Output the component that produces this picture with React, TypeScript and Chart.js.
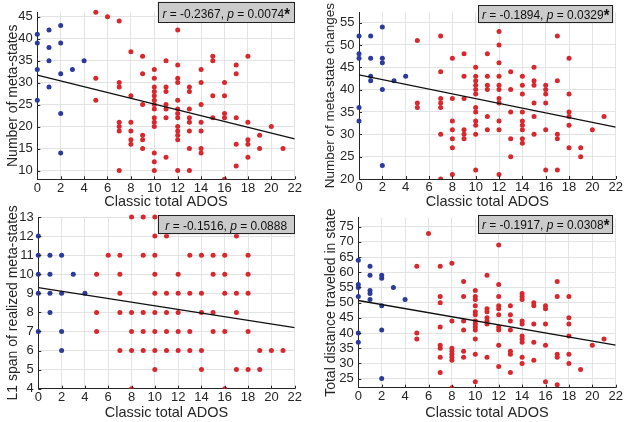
import React, { useEffect, useRef } from "react";
import { Chart, registerables } from "chart.js";

Chart.register(...registerables);

type Column = [number, number[]];

// ---------- shared axis ----------
const adosTicks = [0, 2, 4, 6, 8, 10, 12, 14, 16, 18, 20, 22];
const xAxisTitle = "Classic total ADOS";

// ---------- panel A: number of meta-states ----------
const statesTitle = "Number of meta-states";
const statesTicks = [10, 15, 20, 25, 30, 35, 40, 45];
const statesRange = [8, 46];
const statesBlue: Column[] = [
  [0, [41, 39, 33, 26]],
  [1, [42, 38, 35, 29]],
  [2, [43, 39, 32, 23, 14]],
  [3, [33]],
  [4, [35]],
];
const statesRed: Column[] = [
  [5, [46, 31, 26]],
  [6, [45]],
  [7, [44, 30, 29, 21, 20, 19, 10]],
  [8, [37, 27, 21, 19, 17, 16]],
  [9, [36, 32, 25, 18, 17, 15]],
  [10, [33, 31, 29, 28, 27, 26, 25, 24, 22, 21, 20, 14, 12, 10]],
  [11, [35, 29, 28, 25, 24, 22, 13]],
  [12, [42, 34, 31, 30, 26, 24, 23, 22, 20, 19, 18, 17, 10]],
  [13, [29, 28, 24, 22, 21, 19, 15, 10]],
  [14, [33, 30, 25, 21, 19, 15, 14]],
  [15, [36, 35, 27, 22]],
  [16, [30, 27, 23, 22, 8]],
  [17, [34, 32, 22, 16, 11]],
  [18, [36, 21, 17, 16, 13]],
  [19, [18, 15]],
  [20, [20]],
  [21, [15]],
];
const statesFit = [31.7, 17.2];
const statesStats = ["-0.2367", "0.0074", "*"];

// ---------- panel B: number of meta-state changes ----------
const changesTitle = "Number of meta-state changes";
const changesTicks = [20, 25, 30, 35, 40, 45, 50, 55];
const changesRange = [20, 57.3];
const changesBlue: Column[] = [
  [0, [52, 48, 47, 36, 33]],
  [1, [52, 47, 43, 42]],
  [2, [54, 47, 46, 40, 23]],
  [3, [42]],
  [4, [43]],
];
const changesRed: Column[] = [
  [5, [51, 37, 36]],
  [7, [52, 44, 38, 37, 36, 30, 20]],
  [8, [47, 38, 33, 31, 29, 27, 21]],
  [9, [48, 43, 38, 31, 30, 29]],
  [10, [45, 43, 42, 41, 40, 39, 36, 35, 33, 32, 30, 22]],
  [11, [48, 43, 41, 40, 34, 31]],
  [12, [53, 50, 46, 43, 41, 40, 38, 37, 33, 31, 21]],
  [13, [44, 40, 35, 29, 25]],
  [14, [43, 41, 39, 35, 33, 32, 31, 29, 28]],
  [15, [45, 42, 41, 37, 34, 30]],
  [16, [41, 40, 39, 37, 31, 22]],
  [17, [52, 42, 30, 29, 22]],
  [18, [47, 39, 35, 34, 32, 27]],
  [19, [27, 25]],
  [20, [31]],
  [21, [34]],
];
const changesFit = [43.3, 31.6];
const changesStats = ["-0.1894", "0.0329", "*"];

// ---------- panel C: L1 span ----------
const spanTitle = "L1 span of realized meta-states";
const spanTicks = [4, 5, 6, 7, 8, 9, 10, 11, 12, 13];
const spanRange = [4, 13];
const spanBlue: Column[] = [
  [0, [12, 11, 10, 9, 7]],
  [1, [11, 10, 9, 8]],
  [2, [11, 9, 7, 6]],
  [3, [10]],
  [4, [9]],
];
const spanRed: Column[] = [
  [5, [10, 8, 7]],
  [6, [11]],
  [7, [11, 10, 9, 8, 6]],
  [8, [13, 8, 7, 6, 4]],
  [9, [13, 11, 8, 7, 6]],
  [10, [13, 12, 11, 10, 9, 8, 7, 6, 5]],
  [11, [12, 9, 8, 7, 6]],
  [12, [10, 9, 8, 7, 6]],
  [13, [11, 9, 7, 6]],
  [14, [11, 9, 8, 6, 5]],
  [15, [11, 10, 8, 7]],
  [16, [11, 10, 9, 7, 4]],
  [17, [12, 9, 8, 5]],
  [18, [11, 10, 9, 7, 5]],
  [19, [6, 5]],
  [20, [6]],
  [21, [6]],
];
const spanFit = [9.3, 7.2];
const spanStats = ["-0.1516", "0.0888", ""];

// ---------- panel D: total distance ----------
const distTitle = "Total distance traveled in state";
const distTicks = [25, 30, 35, 40, 45, 50, 55, 60, 65, 70, 75];
const distRange = [22, 78];
const distBlue: Column[] = [
  [0, [64, 56, 55, 52, 40, 37]],
  [1, [62, 59, 54, 53, 51]],
  [2, [59, 58, 49, 41, 25]],
  [3, [55]],
  [4, [51]],
];
const distRed: Column[] = [
  [5, [62, 40, 38]],
  [6, [72.8]],
  [7, [62, 52, 50, 42, 36, 35, 32, 27]],
  [8, [63, 44, 35, 34, 33, 32, 31, 22]],
  [9, [57, 52, 44, 41, 34, 32]],
  [10, [54, 52, 51, 49, 47, 46, 44, 43, 42, 41, 38, 33, 24]],
  [11, [59, 48, 47, 45, 44, 43, 32]],
  [12, [69, 56, 52, 49, 48, 46, 42, 41, 36, 29]],
  [13, [49, 46, 44, 41, 34, 33, 27]],
  [14, [53, 52, 51, 44, 43, 39, 38, 37, 32, 30]],
  [15, [50, 49, 43, 37, 31]],
  [16, [49, 48, 43, 36, 24]],
  [17, [57, 52, 33, 32, 23]],
  [18, [52, 45, 43, 39, 33, 30]],
  [19, [28]],
  [20, [36]],
  [21, [38]],
];
const distFit = [50.7, 36];
const distStats = ["-0.1917", "0.0308", "*"];

// ---------- styles / layout ----------
const FONT = "'Liberation Sans', Arial, Helvetica, sans-serif";
const INK = "#262626";
const GRID = "#e3e3e3";
const RED = "#d8272d";
const BLUE = "#2c3a9c";

interface PanelSpec {
  canvas: [number, number, number, number];
  area: [number, number, number, number];
  box: [number, number, number, number];
  yTitlePad: number;
  yTitleSize: number;
  yTitle: string;
  yTicks: number[];
  yRange: number[];
  blue: Column[];
  red: Column[];
  fit: number[];
  stats: string[];
}

const PANELS: PanelSpec[] = [
  {
    canvas: [0, 0, 314, 211],
    area: [37.3, 7.8, 294.7, 179.3],
    box: [157.7, 1.7, 294.7, 22.7],
    yTitlePad: 4.6,
    yTitleSize: 14,
    yTitle: statesTitle,
    yTicks: statesTicks,
    yRange: statesRange,
    blue: statesBlue,
    red: statesRed,
    fit: statesFit,
    stats: statesStats,
  },
  {
    canvas: [314, 0, 314, 211],
    area: [359, 7.8, 615.7, 179],
    box: [478, 5, 613.3, 23.3],
    yTitlePad: 7.9,
    yTitleSize: 13.5,
    yTitle: changesTitle,
    yTicks: changesTicks,
    yRange: changesRange,
    blue: changesBlue,
    red: changesRed,
    fit: changesFit,
    stats: changesStats,
  },
  {
    canvas: [0, 190, 314, 232],
    area: [38.3, 217, 294.7, 388.7],
    box: [157.7, 215, 294.7, 234.3],
    yTitlePad: 4.6,
    yTitleSize: 14,
    yTitle: spanTitle,
    yTicks: spanTicks,
    yRange: spanRange,
    blue: spanBlue,
    red: spanRed,
    fit: spanFit,
    stats: spanStats,
  },
  {
    canvas: [314, 190, 314, 232],
    area: [358.3, 217.6, 615.7, 387.7],
    box: [478, 215, 613.3, 233.7],
    yTitlePad: 8.3,
    yTitleSize: 14,
    yTitle: distTitle,
    yTicks: distTicks,
    yRange: distRange,
    blue: distBlue,
    red: distRed,
    fit: distFit,
    stats: distStats,
  },
];

const flatten = (cols: Column[]) =>
  cols.flatMap(([x, ys]) => ys.map((y) => ({ x, y })));

function Panel({ spec }: { spec: PanelSpec }) {
  const ref = useRef<HTMLCanvasElement>(null);

  useEffect(() => {
    const canvas = ref.current;
    if (!canvas) return;
    const [cl, ct, cw, ch] = spec.canvas;
    const [al, at, ar, ab] = spec.area;
    const yW = al - cl;
    const xH = ct + ch - ab;
    const padTop = at - ct;
    const padRight = cl + cw - ar;

    const tickPlugin = {
      id: "inwardTicks",
      afterDatasetsDraw(chart: any) {
        const { ctx, chartArea: a, scales } = chart;
        ctx.save();
        ctx.strokeStyle = INK;
        ctx.lineWidth = 1;
        ctx.beginPath();
        for (const t of scales.x.ticks) {
          const px = Math.round(scales.x.getPixelForValue(t.value)) + 0.5;
          ctx.moveTo(px, a.bottom);
          ctx.lineTo(px, a.bottom - 3);
        }
        for (const t of scales.y.ticks) {
          const py = Math.round(scales.y.getPixelForValue(t.value)) + 0.5;
          ctx.moveTo(a.left, py);
          ctx.lineTo(a.left + 3, py);
        }
        ctx.stroke();
        ctx.restore();
      },
    };

    const statPlugin = {
      id: "statBox",
      afterDraw(chart: any) {
        const ctx = chart.ctx as CanvasRenderingContext2D;
        const l = spec.box[0] - cl;
        const t = spec.box[1] - ct;
        const r = spec.box[2] - cl;
        const b = spec.box[3] - ct;
        ctx.save();
        ctx.fillStyle = "#cbcbcb";
        ctx.fillRect(l, t, r - l, b - t);
        ctx.strokeStyle = "#222";
        ctx.lineWidth = 1;
        ctx.strokeRect(Math.round(l) + 0.5, Math.round(t) + 0.5, Math.round(r - l) - 1, Math.round(b - t) - 1);
        const normal = `13px ${FONT}`;
        const italic = `italic 13px ${FONT}`;
        const segs: { t: string; f: string }[] = [
          { t: "r", f: italic },
          { t: ` = ${spec.stats[0]}, `, f: normal },
          { t: "p", f: italic },
          { t: ` = ${spec.stats[1]}`, f: normal },
        ];
        if (spec.stats[2]) segs.push({ t: spec.stats[2], f: `bold 16px ${FONT}` });
        const sx = 0.92;
        let total = 0;
        const widths = segs.map((s) => {
          ctx.font = s.f;
          const w = ctx.measureText(s.t).width;
          total += w;
          return w;
        });
        const baseY = b - 4.5;
        ctx.translate((l + r) / 2 - (total * sx) / 2, baseY);
        ctx.scale(sx, 1);
        ctx.fillStyle = "#111";
        ctx.textBaseline = "alphabetic";
        let x = 0;
        segs.forEach((s, i) => {
          ctx.font = s.f;
          ctx.fillText(s.t, x, s.t === "*" ? 2 : 0);
          x += widths[i];
        });
        ctx.restore();
      },
    };

    const chart = new Chart(canvas, {
      type: "scatter",
      data: {
        datasets: [
          {
            type: "line",
            data: [
              { x: adosTicks[0], y: spec.fit[0] },
              { x: adosTicks[adosTicks.length - 1], y: spec.fit[1] },
            ],
            borderColor: "#111",
            borderWidth: 1.4,
            pointRadius: 0,
            fill: false,
          } as any,
          {
            data: flatten(spec.blue),
            pointRadius: 2.5,
            pointBackgroundColor: BLUE,
            pointBorderWidth: 0,
            clip: { left: false, right: false, top: false, bottom: 0 } as any,
          },
          {
            data: flatten(spec.red),
            pointRadius: 2.5,
            pointBackgroundColor: RED,
            pointBorderWidth: 0,
            clip: { left: false, right: false, top: false, bottom: 0 } as any,
          },
        ],
      },
      options: {
        responsive: false,
        animation: false,
        events: [],
        layout: { padding: { left: 0, top: padTop, right: padRight, bottom: 0 } },
        plugins: {
          legend: { display: false },
          tooltip: { enabled: false },
        },
        scales: {
          x: {
            type: "linear",
            min: adosTicks[0],
            max: adosTicks[adosTicks.length - 1],
            afterBuildTicks: (s: any) => {
              s.ticks = adosTicks.map((v) => ({ value: v }));
            },
            afterFit: (s: any) => {
              s.height = xH;
            },
            ticks: {
              autoSkip: false,
              maxRotation: 0,
              padding: 1,
              color: INK,
              font: { family: FONT, size: 13 },
            },
            grid: { color: GRID, drawTicks: false, lineWidth: 1 },
            border: { color: INK, width: 1 },
            title: {
              display: true,
              text: xAxisTitle,
              color: INK,
              font: { family: FONT, size: 14.5 },
              padding: { top: 0, bottom: 0.5 },
            },
          },
          y: {
            type: "linear",
            min: spec.yRange[0],
            max: spec.yRange[1],
            afterBuildTicks: (s: any) => {
              s.ticks = spec.yTicks.map((v) => ({ value: v }));
            },
            afterFit: (s: any) => {
              s.width = yW;
            },
            ticks: {
              autoSkip: false,
              padding: 4.5,
              color: INK,
              font: { family: FONT, size: 13 },
            },
            grid: { color: GRID, drawTicks: false, lineWidth: 1 },
            border: { color: INK, width: 1 },
            title: {
              display: true,
              text: spec.yTitle,
              color: INK,
              font: { family: FONT, size: spec.yTitleSize },
              padding: { top: spec.yTitlePad, bottom: 0 },
            },
          },
        },
      },
      plugins: [tickPlugin, statPlugin],
    } as any);

    return () => chart.destroy();
  }, [spec]);

  const [cl, ct, cw, ch] = spec.canvas;
  return (
    <canvas
      ref={ref}
      width={cw}
      height={ch}
      style={{ position: "absolute", left: cl, top: ct, width: cw, height: ch }}
    />
  );
}

export default function App() {
  return (
    <div
      style={{
        position: "fixed",
        left: 0,
        top: 0,
        width: 628,
        height: 422,
        background: "#ffffff",
        overflow: "hidden",
      }}
    >
      {PANELS.map((p, i) => (
        <Panel key={i} spec={p} />
      ))}
    </div>
  );
}
